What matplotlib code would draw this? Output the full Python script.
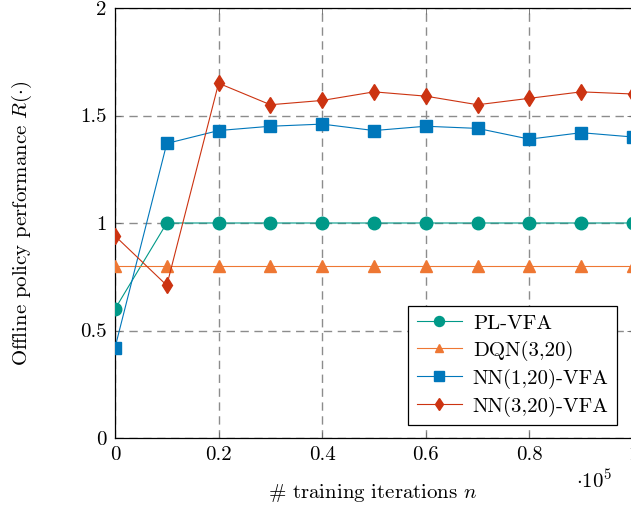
import numpy as np
import matplotlib
matplotlib.use("Agg")
import matplotlib.pyplot as plt

plt.rcParams['font.family'] = 'serif'
plt.rcParams['font.serif'] = ['cmr10']
plt.rcParams['mathtext.fontset'] = 'cm'
plt.rcParams['axes.formatter.use_mathtext'] = True

# training iterations (x 1e5)
iters = [0, 0.1, 0.2, 0.3, 0.4, 0.5, 0.6, 0.7, 0.8, 0.9, 1.0]
pl_vfa = [0.60, 1.0, 1.0, 1.0, 1.0, 1.0, 1.0, 1.0, 1.0, 1.0, 1.0]
dqn = [0.80, 0.80, 0.80, 0.80, 0.80, 0.80, 0.80, 0.80, 0.80, 0.80, 0.80]
nn1 = [0.42, 1.37, 1.43, 1.45, 1.46, 1.43, 1.45, 1.44, 1.39, 1.42, 1.40]
nn3 = [0.94, 0.71, 1.65, 1.55, 1.57, 1.61, 1.59, 1.55, 1.58, 1.61, 1.60]

W, H = 631, 508
fig = plt.figure(figsize=(W / 100, H / 100), dpi=100)
x0, x1 = 115, 633
y0, y1 = 438, 8
ax = fig.add_axes([x0 / W, 1 - y0 / H, (x1 - x0) / W, (y0 - y1) / H])

ax.plot(iters, pl_vfa, color='#009988', marker='o', ms=9, lw=0.8, label='PL-VFA', zorder=3)
ax.plot(iters, dqn, color='#EE7733', marker='^', ms=8, lw=0.8, label='DQN(3,20)', zorder=3)
ax.plot(iters, nn1, color='#0077BB', marker='s', ms=9, lw=0.8, label='NN(1,20)-VFA', zorder=3)
ax.plot(iters, nn3, color='#CC3311', marker='d', ms=8, lw=0.8, label='NN(3,20)-VFA', zorder=3)

ax.set_xlim(0, 1)
ax.set_ylim(0, 2)
ax.set_xticks([0, 0.2, 0.4, 0.6, 0.8, 1.0])
ax.set_xticklabels(['0', '0.2', '0.4', '0.6', '0.8', '1'])
ax.set_yticks([0, 0.5, 1, 1.5, 2])
ax.set_yticklabels(['0', '0.5', '1', '1.5', '2'])
ax.tick_params(direction='in', top=True, right=True, labelsize=15, length=4, width=0.6, color='0.4', pad=6)
ax.grid(True, ls=(0, (6, 4)), color='0.55', lw=1.0)
for s in ax.spines.values():
    s.set_linewidth(0.9)

fig.text(373 / W, 1 - 493 / H, r'# training iterations $n$', fontsize=15, ha='center', va='center')
fig.text(22 / W, 1 - 223 / H, r'Offline policy performance $R(\cdot)$', fontsize=15,
         ha='center', va='center', rotation=90)
fig.text(576 / W, 1 - 481 / H, r'$\cdot 10^5$', fontsize=15, ha='left', va='center')

leg = ax.legend(loc='lower right', bbox_to_anchor=(617 / W, 1 - 425 / H), bbox_transform=fig.transFigure,
                fontsize=15, frameon=True, fancybox=False, edgecolor='black', framealpha=1,
                handlelength=2.2, borderpad=0.4, labelspacing=0.38, handletextpad=0.5,
                markerscale=0.8, borderaxespad=0)
leg.get_frame().set_linewidth(0.9)

fig.savefig('out.png', dpi=100)
